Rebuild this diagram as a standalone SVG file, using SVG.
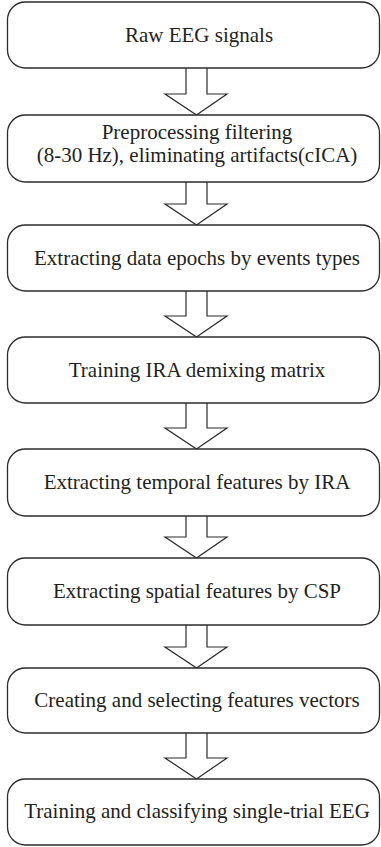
<svg xmlns="http://www.w3.org/2000/svg" width="381" height="847" viewBox="0 0 381 847">
  <style>
    .box { fill: #ffffff; stroke: #2b2b2b; stroke-width: 1.3; }
    .arrow { fill: #ffffff; stroke: #2b2b2b; stroke-width: 1.2; stroke-linejoin: miter; }
    .label { font-size: 21px; fill: #231f20; text-anchor: middle; }
  </style>
  <rect width="381" height="847" fill="#ffffff"/>

  <!-- block arrows between the steps -->
  <g id="connectors">
    <path class="arrow" d="M186,68 V94 H165 L196.5,115 L227,94 H207 V68"/>
    <path class="arrow" d="M186,182 V204 H165 L196.5,225 L227,204 H207 V182"/>
    <path class="arrow" d="M186,291 V316 H165 L196.5,337 L227,316 H207 V291"/>
    <path class="arrow" d="M186,403 V428 H165 L196.5,449 L227,428 H207 V403"/>
    <path class="arrow" d="M186,516 V537 H165 L196.5,558 L227,537 H207 V516"/>
    <path class="arrow" d="M186,625 V647 H165 L196.5,668 L227,647 H207 V625"/>
    <path class="arrow" d="M186,733 V758 H165 L196.5,779 L227,758 H207 V733"/>
  </g>

  <g id="raw-eeg">
    <rect class="box" x="7.5" y="2" width="372" height="66" rx="18"/>
    <text class="label" font-family="Liberation Serif" x="199" y="42">Raw EEG signals</text>
  </g>

  <g id="preprocessing">
    <rect class="box" x="7.5" y="115" width="372" height="67" rx="18"/>
    <text class="label" font-family="Liberation Serif" x="197" y="139">Preprocessing filtering</text>
    <text class="label" font-family="Liberation Serif" x="197" y="162">(8-30 Hz), eliminating artifacts(cICA)</text>
  </g>

  <g id="epochs">
    <rect class="box" x="7.5" y="225" width="372" height="66" rx="18"/>
    <text class="label" font-family="Liberation Serif" x="197" y="265">Extracting data epochs by events types</text>
  </g>

  <g id="ira-training">
    <rect class="box" x="7.5" y="337" width="372" height="66" rx="18"/>
    <text class="label" font-family="Liberation Serif" x="197" y="377">Training IRA demixing matrix</text>
  </g>

  <g id="temporal-features">
    <rect class="box" x="7.5" y="449" width="372" height="67" rx="18"/>
    <text class="label" font-family="Liberation Serif" x="197" y="489">Extracting temporal features by IRA</text>
  </g>

  <g id="spatial-features">
    <rect class="box" x="7.5" y="558" width="372" height="67" rx="18"/>
    <text class="label" font-family="Liberation Serif" x="197" y="598">Extracting spatial features by CSP</text>
  </g>

  <g id="feature-vectors">
    <rect class="box" x="7.5" y="668" width="372" height="65" rx="18"/>
    <text class="label" font-family="Liberation Serif" x="197" y="707">Creating and selecting features vectors</text>
  </g>

  <g id="classification">
    <rect class="box" x="7.5" y="779" width="372" height="66" rx="18"/>
    <text class="label" font-family="Liberation Serif" x="197" y="818">Training and classifying single-trial EEG</text>
  </g>
</svg>
